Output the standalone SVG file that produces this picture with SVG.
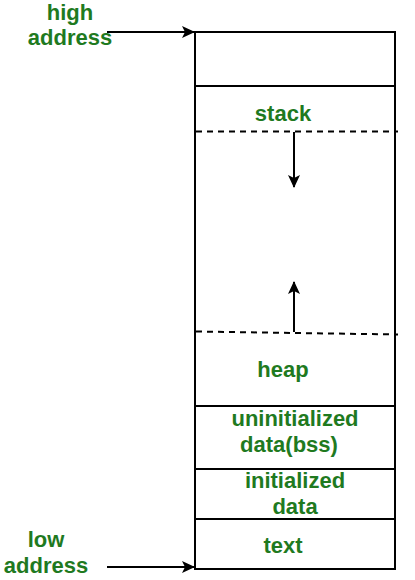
<svg xmlns="http://www.w3.org/2000/svg" width="415" height="580" viewBox="0 0 415 580">
<defs>
<marker id="ah" markerWidth="13" markerHeight="12" refX="12" refY="6" orient="auto" markerUnits="userSpaceOnUse">
<path d="M0,0 L13,6 L0,12 L3,6 Z" fill="#000"/>
</marker>
<style>
.t{font-family:"Liberation Sans",Arial,sans-serif;font-weight:bold;font-size:22px;fill:#1f7a1f;text-anchor:middle}
.box{fill:#fff;stroke:#000;stroke-width:2}
.ln{stroke:#000;stroke-width:2;fill:none}
.dash{stroke:#000;stroke-width:2;stroke-dasharray:6,5;fill:none}
</style>
</defs>
<rect width="415" height="580" fill="#fff"/>
<g id="memory">
<rect class="box" x="195" y="32" width="200" height="537"/>
</g>
<g id="reserved">
<line class="ln" x1="195" y1="86" x2="395" y2="86"/>
</g>
<g id="stack">
<text class="t" x="283" y="121">stack</text>
<line class="dash" x1="196" y1="131.5" x2="398" y2="131.5"/>
</g>
<g id="heap">
<line class="dash" x1="196" y1="331.5" x2="398" y2="334.5"/>
<text class="t" x="283" y="377">heap</text>
<line class="ln" x1="195" y1="406" x2="395" y2="406"/>
</g>
<g id="bss">
<text class="t" x="295" y="426">uninitialized</text>
<text class="t" x="289" y="452">data(bss)</text>
<line class="ln" x1="195" y1="469" x2="395" y2="469"/>
</g>
<g id="data">
<text class="t" x="295" y="488">initialized</text>
<text class="t" x="295" y="514">data</text>
<line class="ln" x1="195" y1="519" x2="395" y2="519"/>
</g>
<g id="text">
<text class="t" x="283" y="553">text</text>
</g>
<g id="high">
<text class="t" x="70" y="20">high</text>
<text class="t" x="70" y="45">address</text>
</g>
<g id="low">
<text class="t" x="46" y="547">low</text>
<text class="t" x="46" y="573">address</text>
</g>
<g id="connectors">
<line class="ln" x1="107" y1="32" x2="194" y2="32" marker-end="url(#ah)"/>
<line class="ln" x1="107" y1="567" x2="194" y2="567" marker-end="url(#ah)"/>
<line class="ln" x1="294" y1="132" x2="294" y2="187" marker-end="url(#ah)"/>
<line class="ln" x1="294" y1="332" x2="294" y2="282" marker-end="url(#ah)"/>
</g>
</svg>
